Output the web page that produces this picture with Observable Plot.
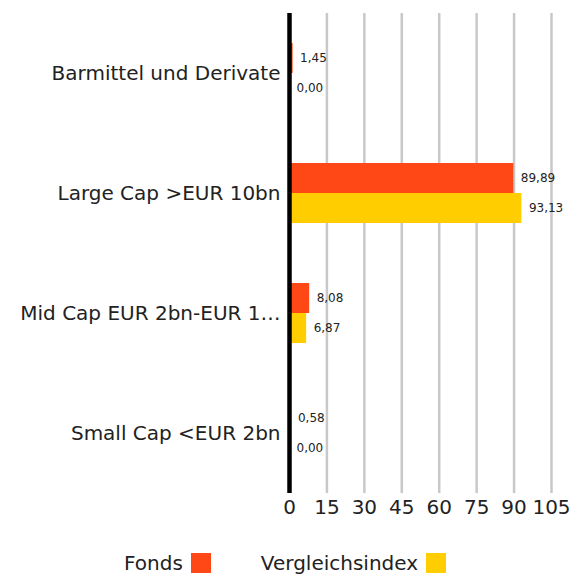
<!DOCTYPE html>
<html>
<head>
<meta charset="utf-8">
<script src="https://cdn.jsdelivr.net/npm/d3@7"></script>
<script src="https://cdn.jsdelivr.net/npm/@observablehq/plot@0.6"></script>
<style>
  body { margin: 0; background: #fff; font-family: "DejaVu Sans", sans-serif; }
  #chart svg { display: block; }
  #legend { display: flex; align-items: center; height: 40px; margin-top: 13px; padding-left: 124px; font-size: 20px; color: #222; }
  #legend .item { display: flex; align-items: center; margin-right: 50px; }
  #legend .sw { width: 20px; height: 20px; margin-left: 8px; display: inline-block; }
</style>
</head>
<body>
<div id="chart"></div>
<div id="legend"></div>
<script>
const categories = ["Barmittel und Derivate", "Large Cap >EUR 10bn", "Mid Cap EUR 2bn-EUR 1…", "Small Cap <EUR 2bn"];
const seriesNames = ["Fonds", "Vergleichsindex"];
const fondsValues = [1.45, 89.89, 8.08, 0.58];
const indexValues = [0.00, 93.13, 6.87, 0.00];
const xTicks = [0, 15, 30, 45, 60, 75, 90, 105];
const colors = ["#FF4816", "#FFCD00"];

const data = [];
categories.forEach((c, i) => {
  data.push({category: c, series: seriesNames[0], value: fondsValues[i]});
  data.push({category: c, series: seriesNames[1], value: indexValues[i]});
});
const fmt = v => d3.format(".2f")(v).replace(".", ",");

const chart = Plot.plot({
  width: 582,
  height: 530,
  marginTop: 12,
  marginBottom: 36,
  marginLeft: 289,
  marginRight: 31,
  style: {fontFamily: "DejaVu Sans, sans-serif", color: "#222"},
  x: {domain: [0, 105], ticks: xTicks, label: null, axis: null},
  fy: {domain: categories, padding: 0, label: null, axis: null},
  y: {domain: seriesNames, paddingInner: 0, paddingOuter: 1, axis: null, label: null},
  color: {domain: seriesNames, range: colors},
  marks: [
    Plot.ruleX(xTicks.slice(1), {x: d => d, stroke: "#c8c8c8", strokeWidth: 2.5}),
    Plot.barX(data, {fy: "category", y: "series", x: "value", fill: "series"}),
    Plot.text(data, {fy: "category", y: "series", x: "value", text: d => fmt(d.value), dx: 7, textAnchor: "start", fontSize: 12, fill: "#222"}),
    Plot.ruleX([0], {x: d => d, stroke: "#000", strokeWidth: 4.5}),
    Plot.axisFy({domain: categories, anchor: "left", tickSize: 0, tickPadding: 9, fontSize: 20, label: null, textOverflow: null}),
    Plot.axisX({ticks: xTicks, anchor: "bottom", tickSize: 0, tickPadding: 6, fontSize: 20, label: null, tickFormat: d => d, facetAnchor: "bottom"})
  ]
});
document.getElementById("chart").appendChild(chart);

const legend = document.getElementById("legend");
seriesNames.forEach((s, i) => {
  const item = document.createElement("div");
  item.className = "item";
  item.innerHTML = `<span>${s}</span><span class="sw" style="background:${colors[i]}"></span>`;
  legend.appendChild(item);
});
</script>
</body>
</html>
